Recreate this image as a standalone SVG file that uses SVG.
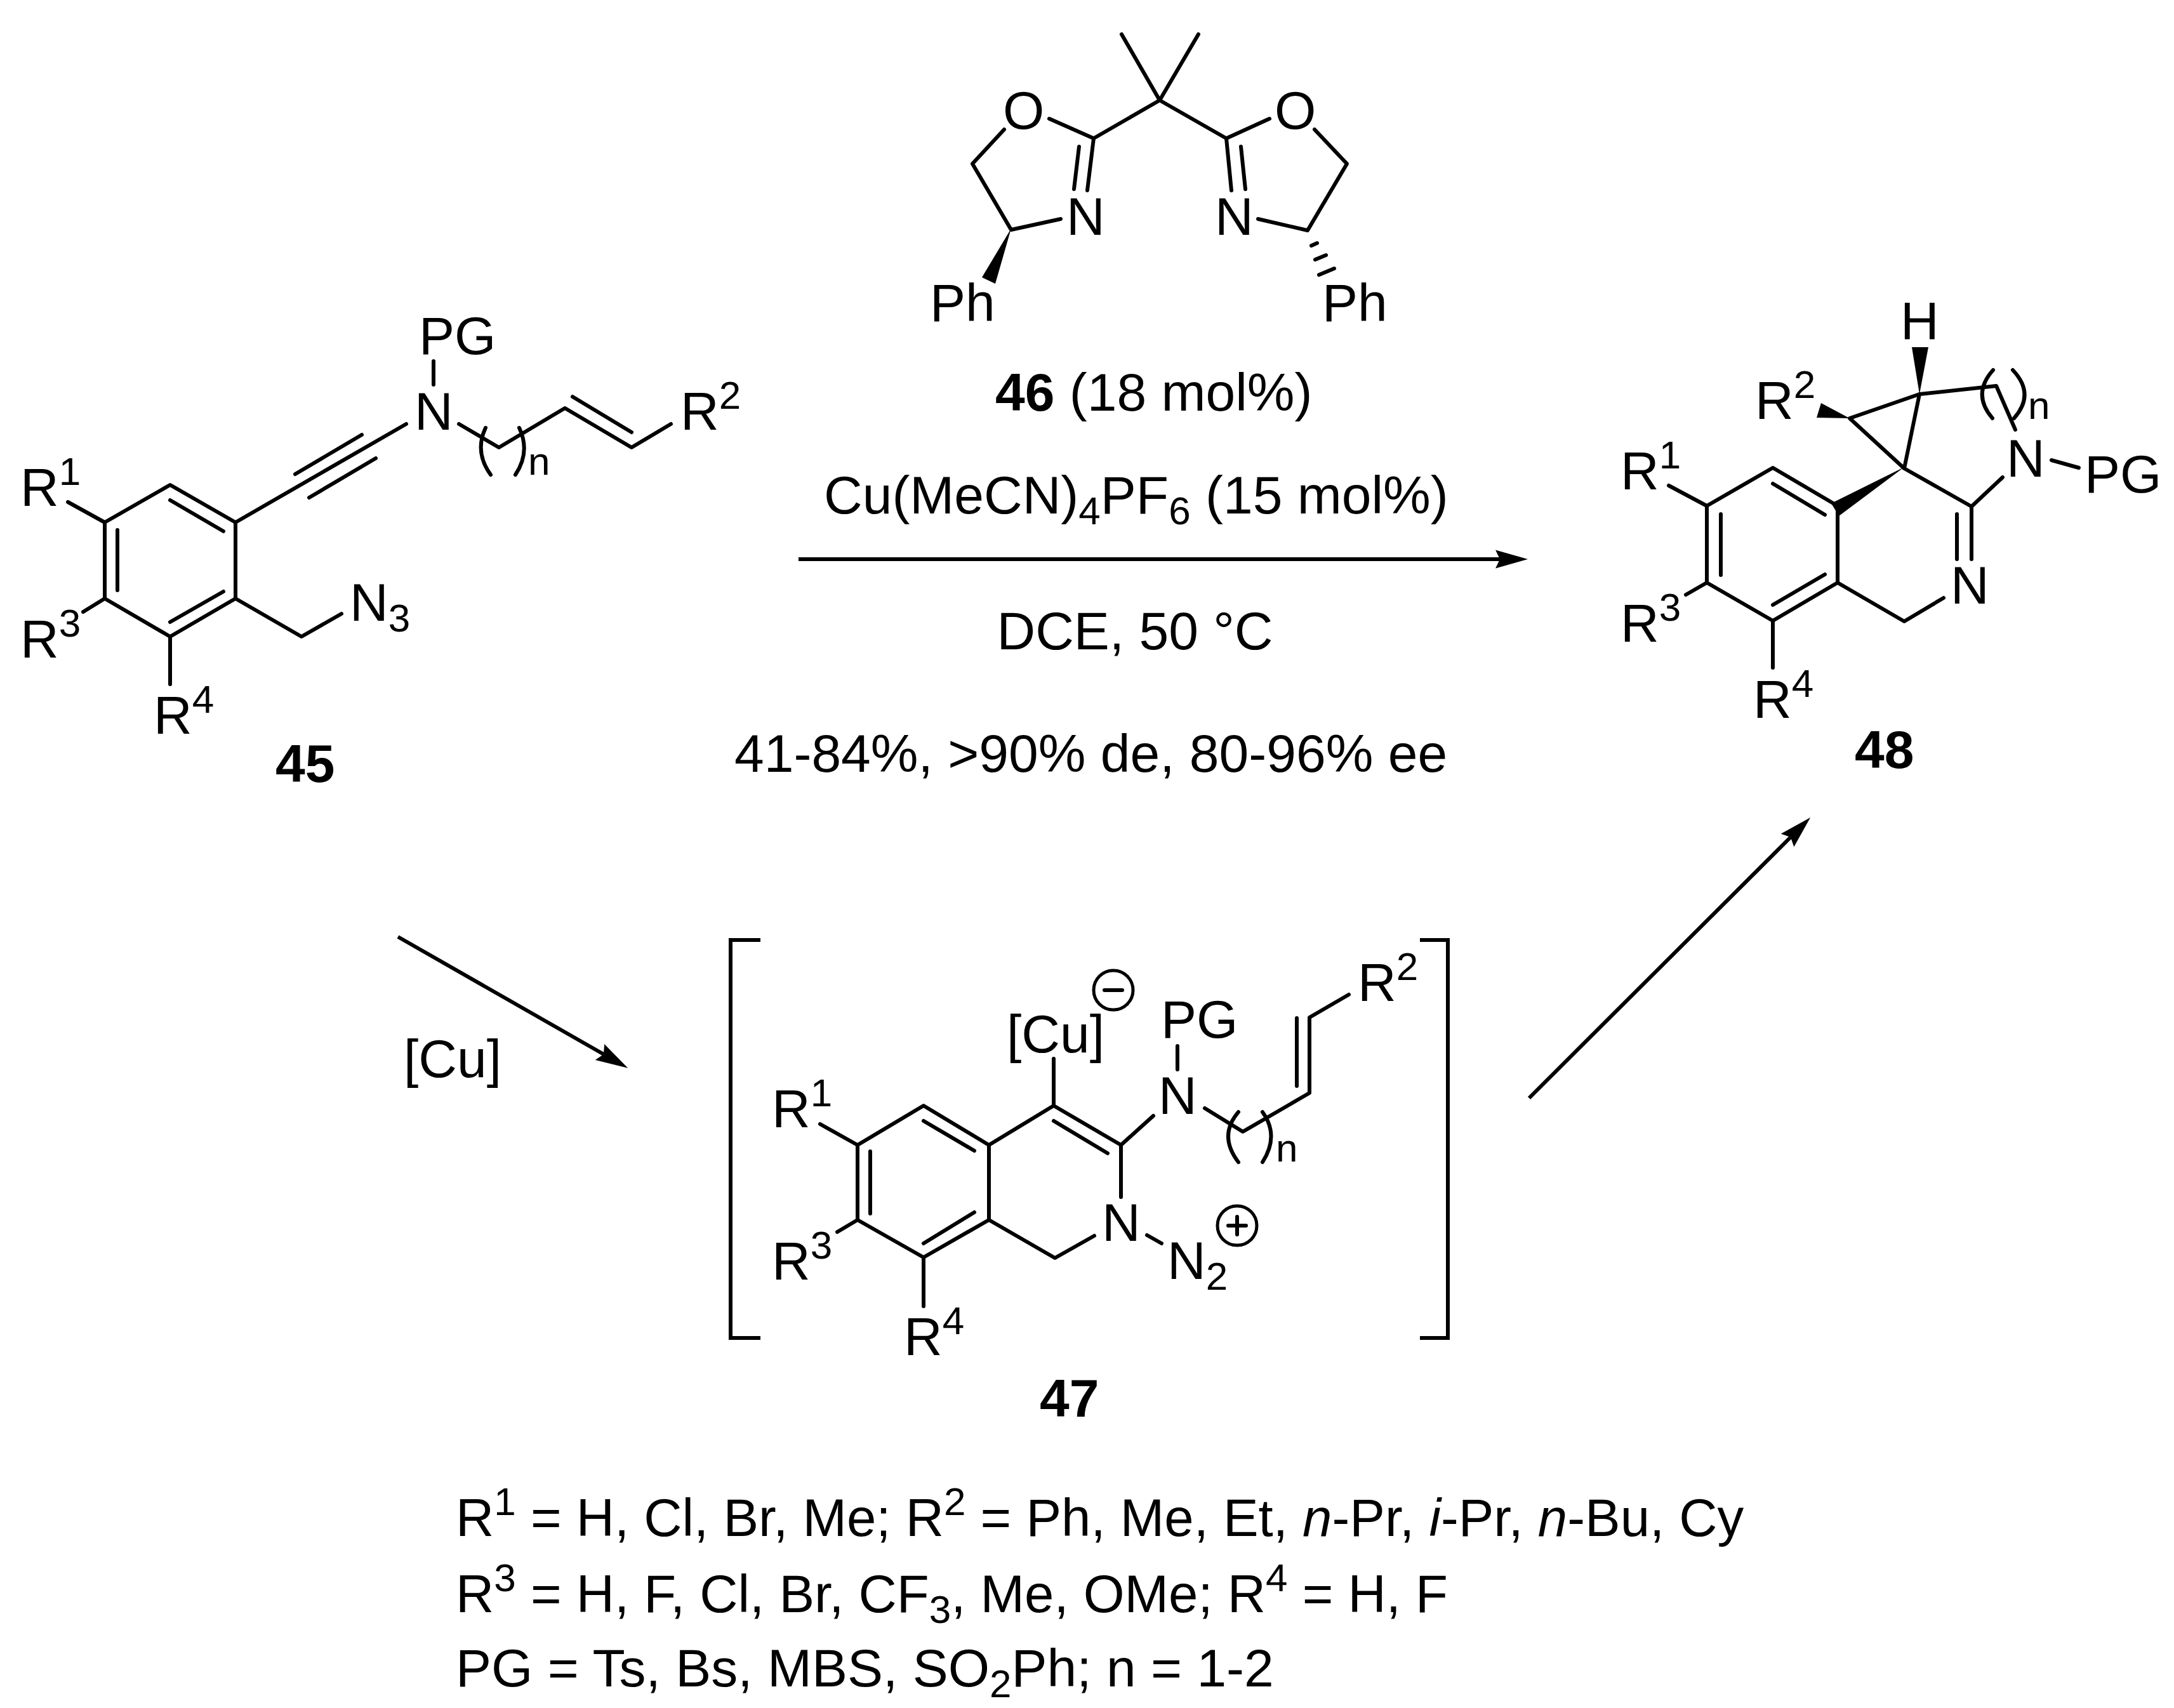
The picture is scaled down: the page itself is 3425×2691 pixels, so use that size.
<svg xmlns="http://www.w3.org/2000/svg" width="3425" height="2691" viewBox="0 0 3425 2691">
<style>
text{font-family:"Liberation Sans",Arial,sans-serif;font-size:84px;fill:#000}
.s{font-size:62px}
.lab{font-weight:bold}
.t{font-size:83.4px}
.b{fill:none;stroke:#000;stroke-width:6;stroke-linecap:round;stroke-linejoin:round}
.a{fill:none;stroke:#000;stroke-width:6}
.w{fill:#000;stroke:none}
</style>
<defs>
<marker id="head" markerUnits="userSpaceOnUse" markerWidth="60" markerHeight="34" refX="7" refY="15" orient="auto">
<path d="M0,0.5L51,15L0,29.5L7,15Z" fill="#000"/>
</marker>
</defs>
<rect width="3425" height="2691" fill="#fff"/>

<g id="connectors">
<line class="a" x1="1258" y1="881" x2="2363" y2="881" marker-end="url(#head)"/>
<line class="a" x1="627" y1="1476" x2="951" y2="1661" marker-end="url(#head)"/>
<line class="a" x1="2409" y1="1730" x2="2821" y2="1319" marker-end="url(#head)"/>
</g>

<g id="node-45">
<path class="b" d="M268,764L371,823L371,943L268,1003L165,943L165,823ZM268,788L352,837M185,835L185,930M268,980L352,932M371,823L640,668M465,747L570,685M487,784L592,722M683,569L683,606M723,668L786,705L890,643L995,705L1057,668M902,625L995,681M107,791L165,823M131,964L165,943M268,1003L268,1078M371,943L475,1003L538,967M765,674Q747,712 773,748M818,674Q836,712 812,748"/>
<text x="660" y="558">PG</text>
<text x="653" y="677">N</text>
<text x="1072" y="677">R<tspan class="s" dy="-33">2</tspan></text>
<text class="s" x="832" y="748">n</text>
<text x="32" y="797">R<tspan class="s" dy="-33">1</tspan></text>
<text x="32" y="1036">R<tspan class="s" dy="-33">3</tspan></text>
<text x="242" y="1156">R<tspan class="s" dy="-33">4</tspan></text>
<text x="551" y="978">N<tspan class="s" dy="17">3</tspan></text>
<text class="lab" x="434" y="1232">45</text>
</g>

<g id="node-46">
<path class="b" d="M1767,54L1827,158L1888,54M1723,218L1827,158L1932,218M1723,218L1653,187M1932,218L2000,187M1582,204L1532,258L1593,362L1671,345M2071,204L2122,258L2060,363L1982,345M1723,218L1713,300M1700,231L1692,298M1932,218L1940,300M1955,231L1962,298M2066,387L2075,383M2072,409L2089,402M2078,433L2102,423"/>
<path class="w" d="M1593,360L1547,437L1568,447Z"/>
<text x="1580" y="203">O</text>
<text x="2008" y="203">O</text>
<text x="1680" y="370">N</text>
<text x="1914" y="370">N</text>
<text x="1465" y="506">Ph</text>
<text x="2083" y="506">Ph</text>
<text x="1568" y="647"><tspan class="lab">46</tspan> (18 mol%)</text>
</g>

<g id="conditions">
<text x="1298" y="809">Cu(MeCN)<tspan class="s" dy="17">4</tspan><tspan dy="-17">PF</tspan><tspan class="s" dy="17">6</tspan><tspan dy="-17"> (15 mol%)</tspan></text>
<text x="1788" y="1023" text-anchor="middle">DCE, 50 °C</text>
<text x="1157" y="1216">41-84%, &gt;90% de, 80-96% ee</text>
</g>

<g id="node-48">
<path class="b" d="M2793,737L2895,797L2895,918L2793,978L2689,918L2689,797ZM2793,762L2875,811M2711,810L2711,906M2793,953L2875,905M3000,738L3106,798L3106,881M3083,810L3083,881M2895,918L3000,979L3062,942M3106,798L3155,752M3232,725L3275,737M3000,738L2914,659L3024,621L3000,738M3024,621L3145,608L3175,677M3140,583Q3106,621 3139,659M3171,583Q3207,621 3173,659M2629,765L2689,797M2656,937L2689,918M2793,978L2793,1052"/>
<path class="w" d="M3000,736L2885,793L2897,813ZM3012,547L3038,547L3024,621ZM2914,659L2869,635L2862,658Z"/>
<text x="3073" y="951">N</text>
<text x="3161" y="751">N</text>
<text x="3284" y="776">PG</text>
<text x="2994" y="535">H</text>
<text class="s" x="3195" y="660">n</text>
<text x="2765" y="660">R<tspan class="s" dy="-33">2</tspan></text>
<text x="2553" y="771">R<tspan class="s" dy="-33">1</tspan></text>
<text x="2553" y="1011">R<tspan class="s" dy="-33">3</tspan></text>
<text x="2762" y="1131">R<tspan class="s" dy="-33">4</tspan></text>
<text class="lab" x="2922" y="1210">48</text>
</g>

<g id="node-47">
<path class="b" style="stroke-linecap:butt;stroke-linejoin:miter" d="M1198,1481L1151,1481L1151,2108L1198,2108M2237,1481L2281,1481L2281,2108L2237,2108"/>
<path class="b" d="M1455,1742L1558,1804L1558,1922L1455,1981L1351,1922L1351,1804ZM1455,1766L1535,1813M1371,1814L1371,1912M1455,1959L1535,1910M1558,1804L1660,1742L1766,1804L1766,1886M1660,1766L1745,1817M1558,1922L1662,1982L1724,1947M1660,1668L1660,1742M1855,1648L1855,1685M1766,1804L1817,1758M1898,1746L1958,1783L2063,1722L2063,1603L2125,1567M2043,1604L2043,1711M1951,1752Q1919,1789 1951,1831M1989,1752Q2016,1789 1989,1831M1292,1771L1351,1804M1319,1941L1351,1922M1455,1981L1455,2058M1807,1946L1830,1959"/>
<circle cx="1754" cy="1560" r="31" fill="none" stroke="#000" stroke-width="5"/>
<path class="b" d="M1740,1560L1768,1560"/>
<circle cx="1949" cy="1931" r="31" fill="none" stroke="#000" stroke-width="5"/>
<path class="b" d="M1935,1931L1963,1931M1949,1917L1949,1945"/>
<text x="1586" y="1658">[Cu]</text>
<text x="1829" y="1635">PG</text>
<text x="1825" y="1755">N</text>
<text class="s" x="2010" y="1830">n</text>
<text x="2139" y="1577">R<tspan class="s" dy="-33">2</tspan></text>
<text x="1216" y="1776">R<tspan class="s" dy="-33">1</tspan></text>
<text x="1216" y="2016">R<tspan class="s" dy="-33">3</tspan></text>
<text x="1424" y="2135">R<tspan class="s" dy="-33">4</tspan></text>
<text x="1736" y="1955">N</text>
<text x="1839" y="2015">N<tspan class="s" dy="17">2</tspan></text>
<text class="lab" x="1638" y="2232">47</text>
</g>

<g id="cu-label">
<text x="636" y="1697">[Cu]</text>
</g>

<g id="substituents">
<text class="t" x="718" y="2420">R<tspan class="s" dy="-33">1</tspan><tspan dy="33"> = H, Cl, Br, Me; R</tspan><tspan class="s" dy="-33">2</tspan><tspan dy="33"> = Ph, Me, Et, </tspan><tspan font-style="italic">n</tspan>-Pr, <tspan font-style="italic">i</tspan>-Pr, <tspan font-style="italic">n</tspan>-Bu, Cy</text>
<text class="t" x="718" y="2540">R<tspan class="s" dy="-33">3</tspan><tspan dy="33"> = H, F, Cl, Br, CF</tspan><tspan class="s" dy="17">3</tspan><tspan dy="-17">, Me, OMe; R</tspan><tspan class="s" dy="-33">4</tspan><tspan dy="33"> = H, F</tspan></text>
<text x="718" y="2657">PG = Ts, Bs, MBS, SO<tspan class="s" dy="17">2</tspan><tspan dy="-17">Ph; n = 1-2</tspan></text>
</g>
</svg>
